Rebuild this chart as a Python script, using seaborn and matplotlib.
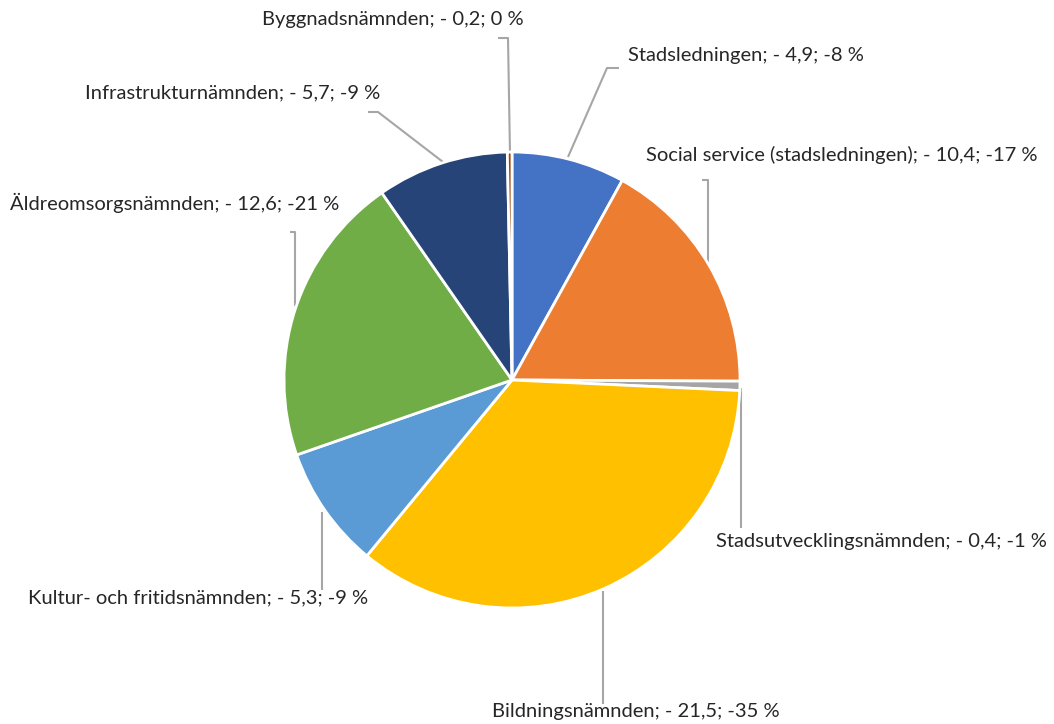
import matplotlib
matplotlib.use("Agg")
import matplotlib.pyplot as plt
import seaborn as sns

# data (mnkr, shown as negatives in labels)
names = ["Stadsledningen", "Social service (stadsledningen)", "Stadsutvecklingsnämnden",
         "Bildningsnämnden", "Kultur- och fritidsnämnden", "Äldreomsorgsnämnden",
         "Infrastrukturnämnden", "Byggnadsnämnden"]
values = [4.9, 10.4, 0.4, 21.5, 5.3, 12.6, 5.7, 0.2]
value_text = ["- 4,9", "- 10,4", "- 0,4", "- 21,5", "- 5,3", "- 12,6", "- 5,7", "- 0,2"]
pct_text = ["-8 %", "-17 %", "-1 %", "-35 %", "-9 %", "-21 %", "-9 %", "0 %"]
colors = ["#4472C4", "#ED7D31", "#A5A5A5", "#FFC000", "#5B9BD5", "#70AD47", "#264478", "#9E480E"]

sns.set_theme(style="white")
plt.rcParams["font.family"] = ["Lato", "DejaVu Sans"]

W, H = 1054, 724
fig = plt.figure(figsize=(W / 100, H / 100), dpi=100)
ax = fig.add_axes([0, 0, 1, 1])

# y axis is flipped (pixel coords), so start at -90 and go counterclockwise in data
# -> starts at 12 o'clock and runs clockwise on screen
cx, cy, r = 512, 380, 228
ax.pie(values, colors=colors, startangle=-90, counterclock=True, center=(cx, cy),
       radius=r, wedgeprops=dict(edgecolor="white", linewidth=2), frame=True)
ax.set_xlim(0, W)
ax.set_ylim(H, 0)
ax.set_aspect("equal")
ax.axis("off")

# label placement (text left x, center y) and leader line points, in pixels
label_pos = [(628, 55), (646, 155), (716, 542), (492, 712), (28, 598), (10, 203), (85, 93), (262, 20)]
leaders = [
    [(619, 68), (607, 68), (568, 157)],
    [(702, 180), (708, 180), (708, 262)],
    [(741, 388), (741, 528)],
    [(603, 591), (603, 704)],
    [(322, 512), (322, 590)],
    [(290, 232), (295, 232), (295, 306)],
    [(368, 112), (378, 112), (443, 162)],
    [(498, 38), (508, 38), (510, 154)],
]

for i, name in enumerate(names):
    x, y = label_pos[i]
    ax.text(x, y, f"{name}; {value_text[i]}; {pct_text[i]}", ha="left", va="center",
            fontsize=14.5, color="#262626")
    pts = leaders[i]
    ax.plot([p[0] for p in pts], [p[1] for p in pts], color="#A6A6A6", lw=1.5,
            solid_capstyle="butt", zorder=0.5)

fig.savefig("out.png", dpi=100, facecolor="white")
